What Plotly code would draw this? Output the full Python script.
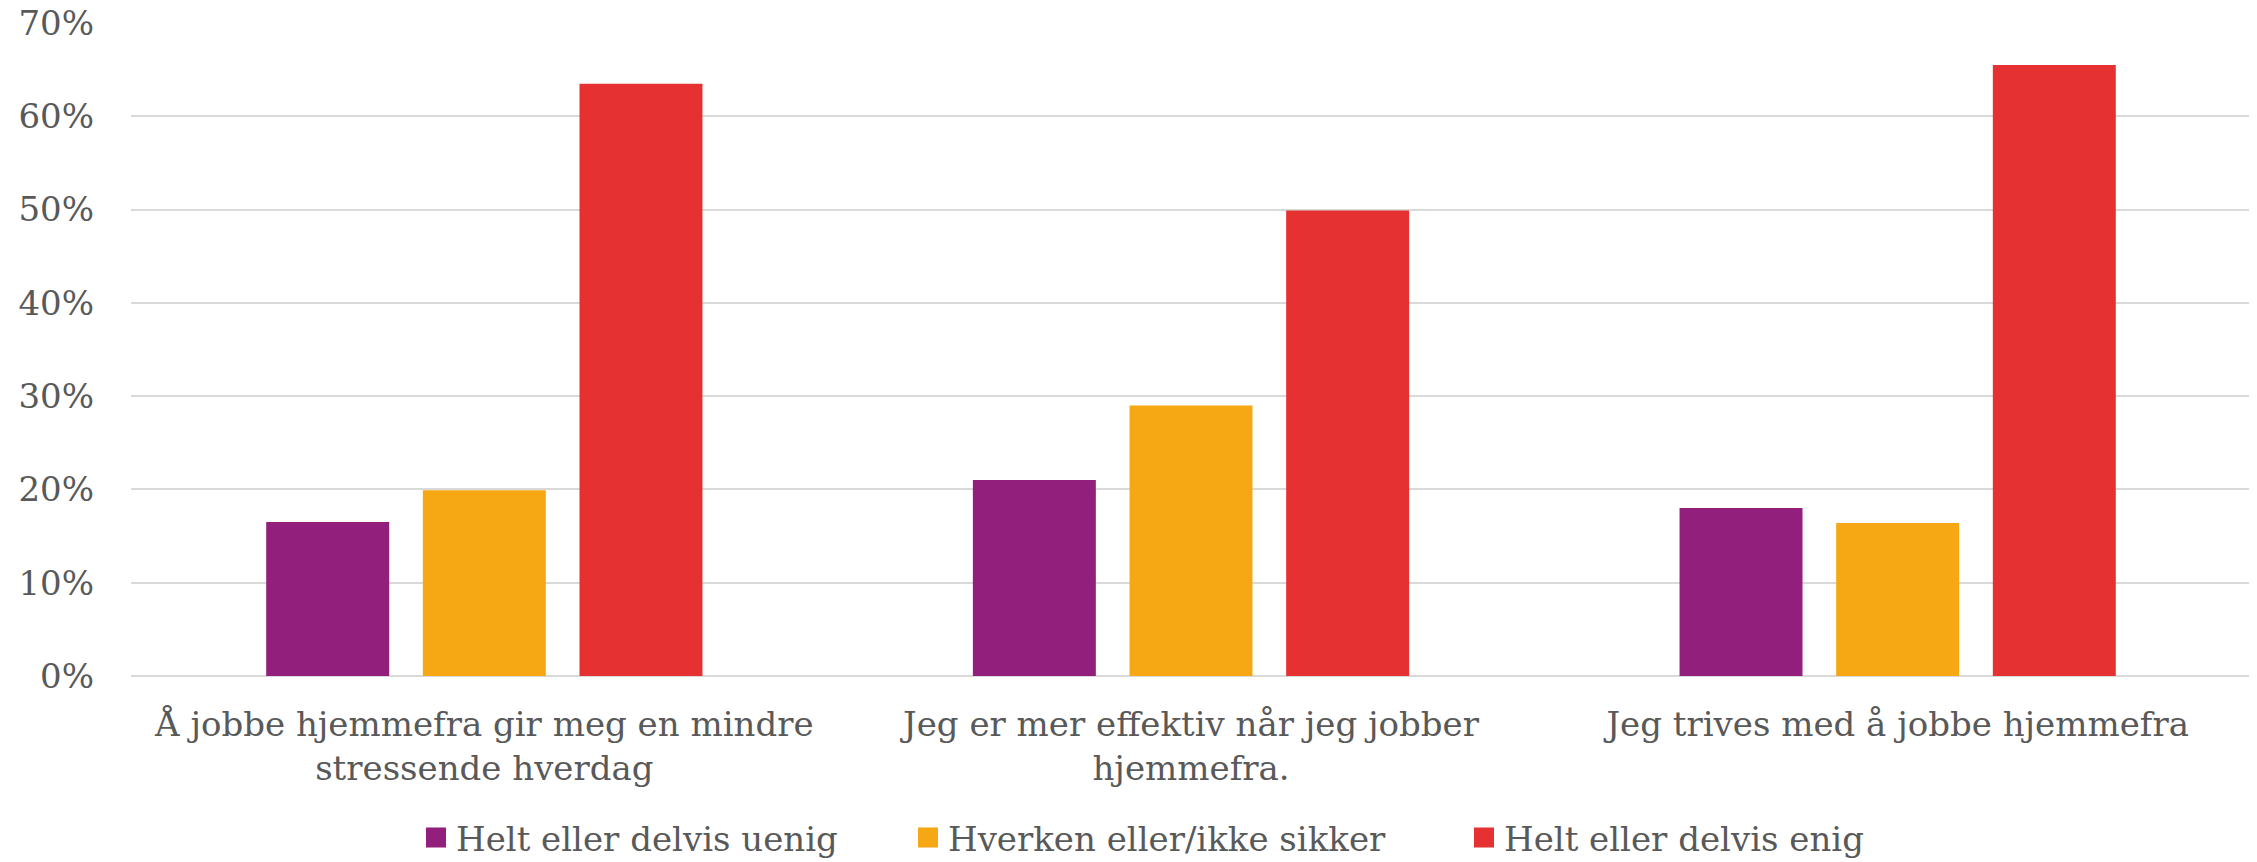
import plotly.graph_objects as go

categories = [
    "Å jobbe hjemmefra gir meg en mindre<br>stressende hverdag",
    "Jeg er mer effektiv når jeg jobber<br>hjemmefra.",
    "Jeg trives med å jobbe hjemmefra",
]
series_names = ["Helt eller delvis uenig", "Hverken eller/ikke sikker", "Helt eller delvis enig"]
uenig = [0.165, 0.210, 0.180]
hverken = [0.199, 0.290, 0.164]
enig = [0.635, 0.499, 0.655]
colors = ["#931F7C", "#F5A814", "#E53131"]
y_ticks = [0, 0.1, 0.2, 0.3, 0.4, 0.5, 0.6, 0.7]

FONT = "DejaVu Serif"
TXT = "#595959"
W, H = 2257, 862
OFF = 8  # page body margin offset

fig = go.Figure()
for name, vals, col in zip(series_names, [uenig, hverken, enig], colors):
    fig.add_trace(go.Bar(x=categories, y=vals, name=name, marker=dict(color=col, line=dict(width=0)),
                         showlegend=False))

legend_x = [426 - 10 - OFF, 918 - 10 - OFF, 1474 - 10 - OFF]
for i, (name, col) in enumerate(zip(series_names, colors)):
    lg = "legend" if i == 0 else f"legend{i+1}"
    fig.add_trace(go.Scatter(x=[None], y=[None], mode="markers", name=name, legend=lg,
                             marker=dict(symbol="square", size=16, color=col, line=dict(color=col, width=4))))

legend_common = dict(orientation="h", xref="container", yref="container", xanchor="left", yanchor="middle",
                     y=1 - (838 - OFF) / H, font=dict(family=FONT, size=34, color=TXT),
                     bgcolor="rgba(0,0,0,0)", borderwidth=0)

fig.update_layout(
    width=W, height=H,
    margin=dict(l=131 - OFF, r=6 + OFF, t=23 - OFF, b=186 + OFF, pad=0),
    paper_bgcolor="white", plot_bgcolor="white",
    barmode="group", bargap=0.335, bargroupgap=0.215,
    font=dict(family=FONT, size=34, color=TXT),
    legend=dict(x=legend_x[0] / W, **legend_common),
    legend2=dict(x=legend_x[1] / W, **legend_common),
    legend3=dict(x=legend_x[2] / W, **legend_common),
    xaxis=dict(type="category", ticks="", showline=False, showgrid=False, automargin=False,
               tickfont=dict(family=FONT, size=34, color=TXT), ticklabelstandoff=25),
    yaxis=dict(range=[0, 0.7], tickvals=y_ticks, tickformat=".0%", ticks="",
               ticklabeloverflow="allow", automargin=False,
               showgrid=True, gridcolor="#D9D9D9", gridwidth=1.5,
               zeroline=True, zerolinecolor="#D9D9D9", zerolinewidth=1.5, showline=False,
               tickfont=dict(family=FONT, size=34, color=TXT), ticklabelstandoff=36),
)

fig.write_html("out.html")
